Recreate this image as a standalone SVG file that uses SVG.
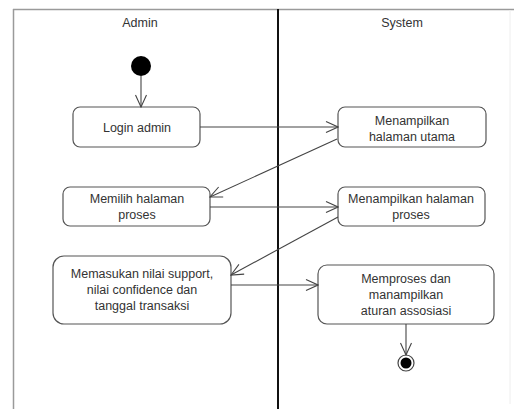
<svg xmlns="http://www.w3.org/2000/svg" width="514" height="409" viewBox="0 0 514 409">
<style>
.frame{fill:none;stroke:#9a9a9a;stroke-width:1.5}
.lane{stroke:#111;stroke-width:2}
.box{fill:#fff;stroke:#555;stroke-width:1.2}
.t{font-family:"Liberation Sans",Arial,sans-serif;font-size:12.5px;fill:#333;text-anchor:middle}
.c{fill:none;stroke:#444;stroke-width:1.1}
</style>
<defs>
<marker id="ah" viewBox="0 0 14 14" refX="13" refY="7" markerWidth="14" markerHeight="14" markerUnits="userSpaceOnUse" orient="auto">
<path d="M1,1.5 L13,7 L1,12.5" fill="none" stroke="#444" stroke-width="1.1"/>
</marker>
</defs>
<rect width="514" height="409" fill="#fff"/>
<g id="frame">
<line class="frame" x1="13" y1="9.5" x2="514" y2="9.5"/>
<line class="frame" x1="13.5" y1="9" x2="13.5" y2="409"/>
<line x1="510" y1="10" x2="510" y2="404" stroke="#eee" stroke-width="1"/>
<line class="lane" x1="278" y1="9" x2="278" y2="409"/>
<text class="t" x="140" y="27">Admin</text>
<text class="t" x="402" y="27">System</text>
</g>
<g id="start"><circle cx="141" cy="66" r="10" fill="#000"/></g>
<g id="login"><rect class="box" x="73" y="107" width="127" height="40" rx="7"/><text class="t" x="137" y="132">Login admin</text></g>
<g id="utama"><rect class="box" x="338" y="107" width="148" height="40" rx="7"/><text class="t" x="412" y="125">Menampilkan</text><text class="t" x="412" y="141">halaman utama</text></g>
<g id="memilih"><rect class="box" x="63" y="187" width="147" height="39" rx="7"/><text class="t" x="137" y="203">Memilih halaman</text><text class="t" x="137" y="219">proses</text></g>
<g id="proses"><rect class="box" x="338" y="187" width="147" height="39" rx="7"/><text class="t" x="411" y="203">Menampilkan halaman</text><text class="t" x="411" y="219">proses</text></g>
<g id="memasukan"><rect class="box" x="53" y="256" width="178" height="68" rx="11"/><text class="t" x="142" y="278">Memasukan nilai support,</text><text class="t" x="142" y="294">nilai confidence dan</text><text class="t" x="142" y="310">tanggal transaksi</text></g>
<g id="memproses"><rect class="box" x="318" y="265" width="176" height="59" rx="9"/><text class="t" x="406" y="283">Memproses dan</text><text class="t" x="406" y="299">manampilkan</text><text class="t" x="406" y="315">aturan assosiasi</text></g>
<g id="end"><circle cx="406" cy="363" r="8" fill="#fff" stroke="#444" stroke-width="1.2"/><circle cx="406" cy="363" r="5.5" fill="#000"/></g>
<g id="connectors">
<line class="c" x1="141" y1="76" x2="141" y2="107" marker-end="url(#ah)"/>
<line class="c" x1="200" y1="127" x2="338" y2="127" marker-end="url(#ah)"/>
<line class="c" x1="337" y1="139" x2="210" y2="197" marker-end="url(#ah)"/>
<line class="c" x1="210" y1="207" x2="338" y2="207" marker-end="url(#ah)"/>
<line class="c" x1="338" y1="217" x2="231" y2="275" marker-end="url(#ah)"/>
<line class="c" x1="231" y1="285" x2="318" y2="285" marker-end="url(#ah)"/>
<line class="c" x1="406" y1="324" x2="406" y2="355" marker-end="url(#ah)"/>
</g>
</svg>
